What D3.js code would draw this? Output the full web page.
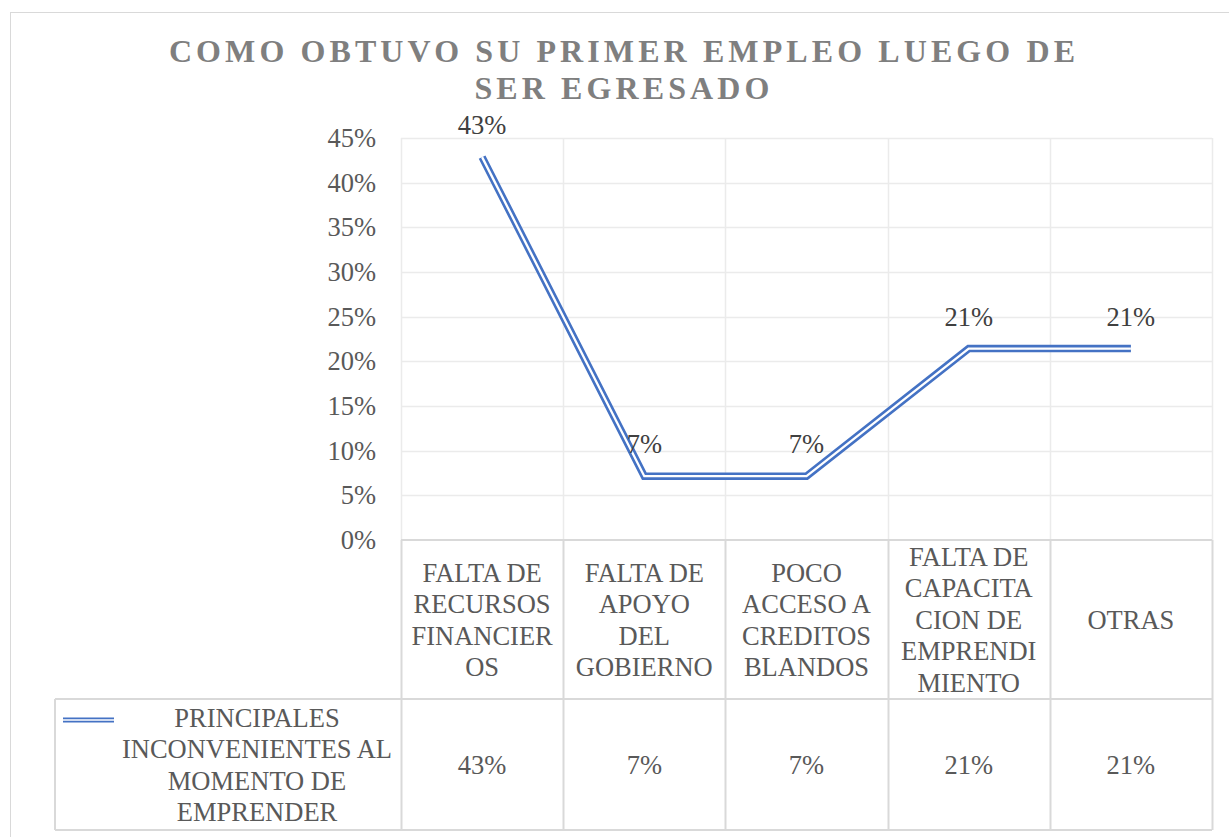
<!DOCTYPE html>
<html>
<head>
<meta charset="utf-8">
<script src="https://cdn.jsdelivr.net/npm/d3@7"></script>
<style>
  body { margin: 0; background: #fff; }
  svg text { font-family: "Liberation Serif", "DejaVu Serif", serif; }
</style>
</head>
<body>
<svg id="chart" width="1229" height="837"></svg>
<script>
var titleLines = ["COMO OBTUVO SU PRIMER EMPLEO LUEGO DE", "SER EGRESADO"];
var seriesName = ["PRINCIPALES", "INCONVENIENTES AL", "MOMENTO DE", "EMPRENDER"];
var categories = [
  ["FALTA DE", "RECURSOS", "FINANCIER", "OS"],
  ["FALTA DE", "APOYO", "DEL", "GOBIERNO"],
  ["POCO", "ACCESO A", "CREDITOS", "BLANDOS"],
  ["FALTA DE", "CAPACITA", "CION DE", "EMPRENDI", "MIENTO"],
  ["OTRAS"]
];
var values = [0.4286, 0.0714, 0.0714, 0.2143, 0.2143];
var yTicks = [0, 0.05, 0.10, 0.15, 0.20, 0.25, 0.30, 0.35, 0.40, 0.45];

var svg = d3.select("#chart"),
    plot = {left: 401, right: 1212, top: 138, bottom: 540},
    table = {left: 55, mid: 699, bottom: 830},
    blue = "#4472c4",
    textColor = "#595959",
    serif = "'Liberation Serif', 'DejaVu Serif', serif",
    fs = 26.5,
    pct = d3.format(".0%");

svg.append("rect").attr("width", 1229).attr("height", 837).attr("fill", "#fff");
svg.append("rect")
    .attr("x", 10.5).attr("y", 12.5)
    .attr("width", 1240).attr("height", 840)
    .attr("fill", "none").attr("stroke", "#d9d9d9");

// title
svg.append("g")
  .selectAll("text")
  .data(titleLines)
  .enter().append("text")
    .attr("x", 624)
    .attr("y", function(d, i) { return 62 + i * 37; })
    .attr("text-anchor", "middle")
    .attr("font-family", serif)
    .attr("font-size", 32)
    .attr("font-weight", "bold")
    .attr("letter-spacing", "4.1px")
    .attr("fill", "#7f7f7f")
    .text(function(d) { return d; });

var x = d3.scaleBand()
    .domain(d3.range(values.length))
    .range([plot.left, plot.right]);

var y = d3.scaleLinear()
    .domain([0, 0.45])
    .range([plot.bottom, plot.top]);

// gridlines
svg.append("g")
  .selectAll("line")
  .data(yTicks.slice(1))
  .enter().append("line")
    .attr("x1", plot.left).attr("x2", plot.right)
    .attr("y1", function(d) { return Math.round(y(d)) + 0.5; })
    .attr("y2", function(d) { return Math.round(y(d)) + 0.5; })
    .attr("stroke", "#ebebeb").attr("stroke-width", 1.5);

var bounds = d3.range(values.length + 1).map(function(i) {
  return i < values.length ? x(i) : plot.right;
});

svg.append("g")
  .selectAll("line")
  .data(bounds)
  .enter().append("line")
    .attr("x1", function(d) { return Math.round(d) + 0.5; })
    .attr("x2", function(d) { return Math.round(d) + 0.5; })
    .attr("y1", plot.top).attr("y2", plot.bottom)
    .attr("stroke", "#ebebeb").attr("stroke-width", 1.5);

// data table borders
var tb = svg.append("g").attr("stroke", "#d9d9d9").attr("stroke-width", 2);
tb.selectAll("line.v")
  .data(bounds)
  .enter().append("line")
    .attr("x1", function(d) { return Math.round(d) + 0.5; })
    .attr("x2", function(d) { return Math.round(d) + 0.5; })
    .attr("y1", plot.bottom).attr("y2", table.bottom);
tb.append("line").attr("x1", plot.left).attr("x2", plot.right).attr("y1", plot.bottom).attr("y2", plot.bottom);
tb.append("line").attr("x1", table.left).attr("x2", plot.right).attr("y1", table.mid).attr("y2", table.mid);
tb.append("line").attr("x1", table.left).attr("x2", plot.right).attr("y1", table.bottom).attr("y2", table.bottom);
tb.append("line").attr("x1", table.left).attr("x2", table.left).attr("y1", table.mid).attr("y2", table.bottom);

// y axis
var yAxis = svg.append("g")
    .attr("transform", "translate(" + plot.left + ",0)")
    .call(d3.axisLeft(y).tickValues(yTicks).tickFormat(pct).tickSize(0).tickPadding(25));
yAxis.select(".domain").remove();
yAxis.attr("font-family", serif).attr("font-size", fs);
yAxis.selectAll("text").attr("fill", textColor);

// double line
var line = d3.line()
    .x(function(d, i) { return x(i) + x.bandwidth() / 2; })
    .y(function(d) { return y(d); });

svg.append("path")
    .datum(values)
    .attr("d", line)
    .attr("fill", "none")
    .attr("stroke", blue)
    .attr("stroke-width", 7.5)
    .attr("stroke-linejoin", "miter");
svg.append("path")
    .datum(values)
    .attr("d", line)
    .attr("fill", "none")
    .attr("stroke", "#fff")
    .attr("stroke-width", 2.3)
    .attr("stroke-linejoin", "miter");

// data labels
svg.append("g")
  .selectAll("text")
  .data(values)
  .enter().append("text")
    .attr("x", function(d, i) { return x(i) + x.bandwidth() / 2; })
    .attr("y", function(d) { return y(d) - 23; })
    .attr("text-anchor", "middle")
    .attr("font-family", serif)
    .attr("font-size", fs)
    .attr("fill", "#404040")
    .text(pct);

// category cells
var lineH = 31.5;
var cat = svg.append("g")
  .selectAll("g")
  .data(categories)
  .enter().append("g")
    .attr("transform", function(d, i) {
      return "translate(" + (x(i) + x.bandwidth() / 2) + "," + (plot.bottom + table.mid) / 2 + ")";
    });
cat.selectAll("text")
  .data(function(d) { return d.map(function(t, j) { return {t: t, j: j, n: d.length}; }); })
  .enter().append("text")
    .attr("y", function(d) { return (d.j - (d.n - 1) / 2) * lineH; })
    .attr("dy", "0.35em")
    .attr("text-anchor", "middle")
    .attr("font-family", serif)
    .attr("font-size", fs)
    .attr("fill", textColor)
    .text(function(d) { return d.t; });

// legend row
var legendY = (table.mid + table.bottom) / 2;
svg.append("line")
    .attr("x1", 63).attr("x2", 114).attr("y1", 720).attr("y2", 720)
    .attr("stroke", blue).attr("stroke-width", 5);
svg.append("line")
    .attr("x1", 63).attr("x2", 114).attr("y1", 720).attr("y2", 720)
    .attr("stroke", "#fff").attr("stroke-width", 1.6);

svg.append("g")
  .selectAll("text")
  .data(seriesName)
  .enter().append("text")
    .attr("x", 257)
    .attr("y", function(d, i) { return legendY + (i - (seriesName.length - 1) / 2) * lineH; })
    .attr("dy", "0.35em")
    .attr("text-anchor", "middle")
    .attr("font-family", serif)
    .attr("font-size", fs)
    .attr("fill", textColor)
    .text(function(d) { return d; });

svg.append("g")
  .selectAll("text")
  .data(values)
  .enter().append("text")
    .attr("x", function(d, i) { return x(i) + x.bandwidth() / 2; })
    .attr("y", legendY)
    .attr("dy", "0.35em")
    .attr("text-anchor", "middle")
    .attr("font-family", serif)
    .attr("font-size", fs)
    .attr("fill", textColor)
    .text(pct);
</script>
</body>
</html>
